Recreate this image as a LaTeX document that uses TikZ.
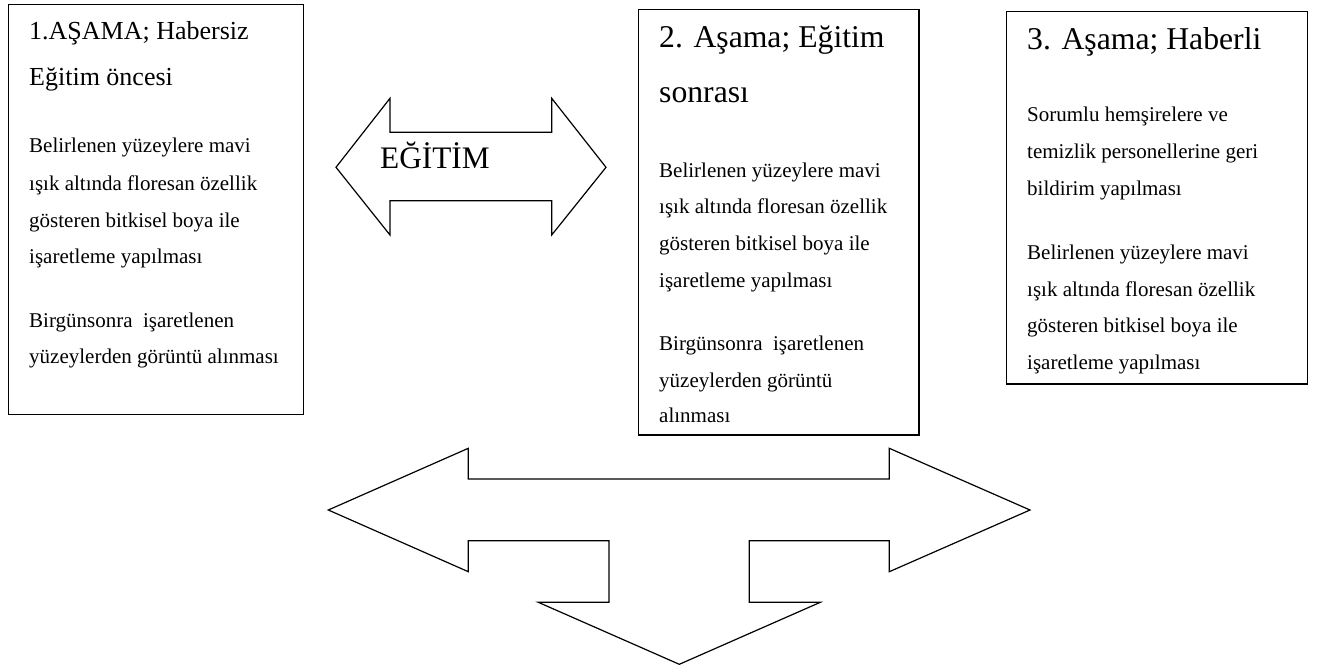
\documentclass[tikz,border=0pt]{standalone}
\usepackage{fontspec}
\setmainfont{Liberation Serif}
\begin{document}
\begin{tikzpicture}[x=1pt,y=-1pt,
  box/.style={draw, line width=1.3pt, inner sep=0pt, anchor=north west},
  blockarrow/.style={draw, line width=1.2pt, line join=miter},
  body/.style={anchor=base west, inner sep=0pt, font=\fontsize{21}{25}\selectfont},
  titleA/.style={anchor=base west, inner sep=0pt, font=\fontsize{26}{30}\selectfont},
  titleB/.style={anchor=base west, inner sep=0pt, font=\fontsize{31.7}{36}\selectfont},
  label/.style={anchor=base west, inner sep=0pt, font=\fontsize{31.3}{36}\selectfont}]
\useasboundingbox (0,0) rectangle (1317,666);

% boxes
\node[box, minimum width=295pt, minimum height=410pt] (box1) at (8,4) {};
\node[box, minimum width=280.5pt, minimum height=425.5pt] (box2) at (637.8,8.7) {};
\node[box, minimum width=301pt, minimum height=372.6pt] (box3) at (1005.7,10.7) {};

% box 1 text
\node[titleA] (t1a) at (29,40) {1.AŞAMA; Habersiz};
\node[titleA] (t1b) at (29,86) {Eğitim öncesi};
\node[body] (b1a) at (29,153) {Belirlenen yüzeylere mavi};
\node[body] (b1b) at (29,190) {ışık altında floresan özellik};
\node[body] (b1c) at (29,227) {gösteren bitkisel boya ile};
\node[body] (b1d) at (29,263) {işaretleme yapılması};
\node[body] (b1e) at (29,327) {Birgünsonra\ \ işaretlenen};
\node[body] (b1f) at (29,363) {yüzeylerden görüntü alınması};

% box 2 text
\node[titleB] (t2a) at (659,48) {2. Aşama; Eğitim};
\node[titleB] (t2b) at (659,103) {sonrası};
\node[body] (b2a) at (659,177) {Belirlenen yüzeylere mavi};
\node[body] (b2b) at (659,213) {ışık altında floresan özellik};
\node[body] (b2c) at (659,250) {gösteren bitkisel boya ile};
\node[body] (b2d) at (659,287) {işaretleme yapılması};
\node[body] (b2e) at (659,350) {Birgünsonra\ \ işaretlenen};
\node[body] (b2f) at (659,387) {yüzeylerden görüntü};
\node[body] (b2g) at (659,422) {alınması};

% box 3 text
\node[titleB] (t3a) at (1027,50) {3. Aşama; Haberli};
\node[body] (b3a) at (1027,122) {Sorumlu hemşirelere ve};
\node[body] (b3b) at (1027,158) {temizlik personellerine geri};
\node[body] (b3c) at (1027,195) {bildirim yapılması};
\node[body] (b3d) at (1027,259) {Belirlenen yüzeylere mavi};
\node[body] (b3e) at (1027,296) {ışık altında floresan özellik};
\node[body] (b3f) at (1027,332.5) {gösteren bitkisel boya ile};
\node[body] (b3g) at (1027,369) {işaretleme yapılması};

% EĞİTİM double arrow
\draw[blockarrow] (336,167.3) -- (390,98.3) -- (390,132.3) -- (551.7,132.3) -- (551.7,98.3)
  -- (606,167.3) -- (551.7,235) -- (551.7,200.7) -- (390,200.7) -- (390,235) -- cycle;
\node[label] (egitim) at (380,168.3) {EĞİTİM};

% bottom three-way arrow
\draw[blockarrow] (328.3,510) -- (468.3,448.3) -- (468.3,479) -- (889.3,479) -- (889.3,448.3)
  -- (1030,510) -- (889.3,571.7) -- (889.3,540.7) -- (749.3,540.7) -- (749.3,602.3)
  -- (820.3,602.3) -- (679.3,664.3) -- (538.3,602.3) -- (609,602.3) -- (609,540.7)
  -- (468.3,540.7) -- (468.3,571.7) -- cycle;
\end{tikzpicture}
\end{document}
